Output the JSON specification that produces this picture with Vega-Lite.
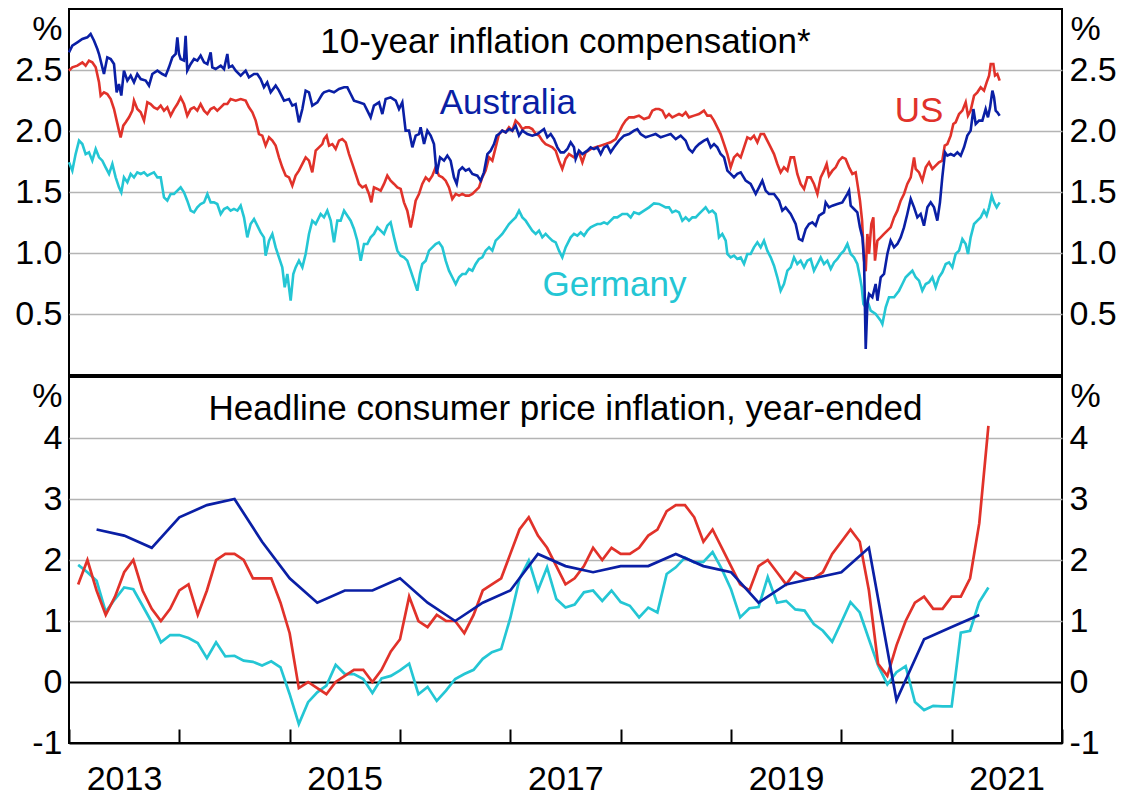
{
"$schema":"https://vega.github.io/schema/vega-lite/v6.json",
"background":"white",
"padding":{"left":13,"top":8,"right":5,"bottom":5},
"spacing":0,
"config":{
"font":"Liberation Sans",
"view":{"stroke":"black","strokeWidth":2},
"concat":{"spacing":0},
"axis":{"labelFont":"Liberation Sans","labelFontSize":34,"labelColor":"black","titleFont":"Liberation Sans","titleFontSize":34,"titleFontWeight":"normal","titleColor":"black","domain":false,"ticks":false,"gridColor":"#b4b4b4","gridWidth":1.5}
},
"datasets":{
"ie_au":[{"t":2013.000,"v":2.645},{"t":2013.030,"v":2.700},{"t":2013.076,"v":2.727},{"t":2013.121,"v":2.754},{"t":2013.166,"v":2.768},{"t":2013.196,"v":2.795},{"t":2013.227,"v":2.740},{"t":2013.257,"v":2.672},{"t":2013.272,"v":2.631},{"t":2013.302,"v":2.522},{"t":2013.317,"v":2.467},{"t":2013.347,"v":2.604},{"t":2013.378,"v":2.590},{"t":2013.408,"v":2.549},{"t":2013.432,"v":2.317},{"t":2013.453,"v":2.385},{"t":2013.474,"v":2.290},{"t":2013.498,"v":2.495},{"t":2013.529,"v":2.413},{"t":2013.559,"v":2.454},{"t":2013.589,"v":2.399},{"t":2013.619,"v":2.467},{"t":2013.650,"v":2.426},{"t":2013.695,"v":2.413},{"t":2013.725,"v":2.372},{"t":2013.755,"v":2.467},{"t":2013.801,"v":2.495},{"t":2013.846,"v":2.467},{"t":2013.876,"v":2.454},{"t":2013.906,"v":2.522},{"t":2013.937,"v":2.604},{"t":2013.967,"v":2.631},{"t":2013.982,"v":2.768},{"t":2013.997,"v":2.631},{"t":2014.012,"v":2.590},{"t":2014.042,"v":2.577},{"t":2014.057,"v":2.781},{"t":2014.072,"v":2.495},{"t":2014.103,"v":2.549},{"t":2014.133,"v":2.590},{"t":2014.163,"v":2.577},{"t":2014.193,"v":2.618},{"t":2014.224,"v":2.563},{"t":2014.254,"v":2.549},{"t":2014.284,"v":2.645},{"t":2014.299,"v":2.522},{"t":2014.329,"v":2.508},{"t":2014.375,"v":2.536},{"t":2014.405,"v":2.508},{"t":2014.435,"v":2.631},{"t":2014.450,"v":2.522},{"t":2014.480,"v":2.536},{"t":2014.511,"v":2.495},{"t":2014.556,"v":2.454},{"t":2014.601,"v":2.495},{"t":2014.631,"v":2.440},{"t":2014.677,"v":2.467},{"t":2014.707,"v":2.467},{"t":2014.737,"v":2.426},{"t":2014.767,"v":2.358},{"t":2014.797,"v":2.399},{"t":2014.828,"v":2.317},{"t":2014.873,"v":2.372},{"t":2014.903,"v":2.331},{"t":2014.949,"v":2.249},{"t":2014.994,"v":2.262},{"t":2015.024,"v":2.208},{"t":2015.054,"v":2.221},{"t":2015.084,"v":2.071},{"t":2015.115,"v":2.180},{"t":2015.145,"v":2.331},{"t":2015.175,"v":2.317},{"t":2015.205,"v":2.208},{"t":2015.251,"v":2.235},{"t":2015.296,"v":2.303},
{"t":2015.311,"v":2.317},{"t":2015.357,"v":2.331},{"t":2015.402,"v":2.317},{"t":2015.447,"v":2.344},{"t":2015.493,"v":2.358},{"t":2015.523,"v":2.358},{"t":2015.553,"v":2.303},{"t":2015.583,"v":2.249},{"t":2015.628,"v":2.235},{"t":2015.674,"v":2.221},{"t":2015.704,"v":2.167},{"t":2015.734,"v":2.112},{"t":2015.764,"v":2.208},{"t":2015.810,"v":2.235},{"t":2015.840,"v":2.139},{"t":2015.870,"v":2.262},{"t":2015.915,"v":2.276},{"t":2015.961,"v":2.249},{"t":2015.991,"v":2.180},{"t":2016.021,"v":2.235},{"t":2016.051,"v":2.003},{"t":2016.082,"v":2.003},{"t":2016.112,"v":1.866},{"t":2016.142,"v":1.962},{"t":2016.172,"v":1.975},{"t":2016.187,"v":2.030},{"t":2016.218,"v":1.893},{"t":2016.248,"v":2.003},{"t":2016.278,"v":1.962},{"t":2016.308,"v":1.893},{"t":2016.332,"v":1.648},{"t":2016.363,"v":1.784},{"t":2016.399,"v":1.757},{"t":2016.429,"v":1.798},{"t":2016.459,"v":1.757},{"t":2016.489,"v":1.620},{"t":2016.514,"v":1.566},{"t":2016.535,"v":1.675},{"t":2016.565,"v":1.702},{"t":2016.595,"v":1.675},{"t":2016.625,"v":1.689},{"t":2016.656,"v":1.648},{"t":2016.701,"v":1.634},{"t":2016.731,"v":1.593},{"t":2016.761,"v":1.661},{"t":2016.792,"v":1.811},{"t":2016.822,"v":1.839},{"t":2016.852,"v":1.893},{"t":2016.876,"v":1.962},{"t":2016.897,"v":1.975},{"t":2016.927,"v":2.003},{"t":2016.958,"v":1.989},{"t":2016.988,"v":2.016},{"t":2017.018,"v":2.003},{"t":2017.048,"v":2.044},{"t":2017.079,"v":1.962},{"t":2017.109,"v":2.003},{"t":2017.154,"v":1.975},{"t":2017.199,"v":1.962},{"t":2017.245,"v":1.975},{"t":2017.305,"v":2.016},{"t":2017.335,"v":1.948},{"t":2017.366,"v":1.975},{"t":2017.396,"v":1.934},{"t":2017.426,"v":1.866},{"t":2017.456,"v":1.825},{"t":2017.486,"v":1.825},{"t":2017.517,"v":1.852},{"t":2017.547,"v":1.907},{"t":2017.577,"v":1.866},
{"t":2017.592,"v":1.771},{"t":2017.622,"v":1.839},{"t":2017.653,"v":1.811},{"t":2017.698,"v":1.839},{"t":2017.728,"v":1.866},{"t":2017.758,"v":1.852},{"t":2017.789,"v":1.866},{"t":2017.819,"v":1.811},{"t":2017.849,"v":1.866},{"t":2017.879,"v":1.880},{"t":2017.909,"v":1.825},{"t":2017.940,"v":1.866},{"t":2017.985,"v":1.921},{"t":2018.030,"v":1.962},{"t":2018.076,"v":1.975},{"t":2018.121,"v":2.003},{"t":2018.151,"v":2.016},{"t":2018.181,"v":1.975},{"t":2018.227,"v":1.948},{"t":2018.272,"v":1.962},{"t":2018.317,"v":1.975},{"t":2018.363,"v":1.948},{"t":2018.408,"v":1.962},{"t":2018.453,"v":1.975},{"t":2018.499,"v":1.934},{"t":2018.544,"v":1.962},{"t":2018.589,"v":1.921},{"t":2018.619,"v":1.852},{"t":2018.650,"v":1.825},{"t":2018.680,"v":1.866},{"t":2018.710,"v":1.893},{"t":2018.755,"v":1.921},{"t":2018.785,"v":1.934},{"t":2018.816,"v":1.866},{"t":2018.846,"v":1.893},{"t":2018.876,"v":1.866},{"t":2018.906,"v":1.811},{"t":2018.937,"v":1.784},{"t":2018.967,"v":1.675},{"t":2018.997,"v":1.648},{"t":2019.027,"v":1.620},{"t":2019.057,"v":1.648},{"t":2019.088,"v":1.661},{"t":2019.133,"v":1.593},{"t":2019.178,"v":1.566},{"t":2019.224,"v":1.484},{"t":2019.254,"v":1.538},{"t":2019.284,"v":1.593},{"t":2019.314,"v":1.511},{"t":2019.344,"v":1.484},{"t":2019.390,"v":1.484},{"t":2019.435,"v":1.429},{"t":2019.465,"v":1.347},{"t":2019.495,"v":1.374},{"t":2019.541,"v":1.320},{"t":2019.586,"v":1.238},{"t":2019.616,"v":1.115},{"t":2019.646,"v":1.101},{"t":2019.677,"v":1.197},{"t":2019.707,"v":1.238},{"t":2019.737,"v":1.251},{"t":2019.767,"v":1.224},{"t":2019.798,"v":1.306},{"t":2019.843,"v":1.333},
{"t":2019.858,"v":1.415},{"t":2019.888,"v":1.374},{"t":2019.919,"v":1.388},{"t":2019.964,"v":1.402},{"t":2020.009,"v":1.415},{"t":2020.055,"v":1.484},{"t":2020.070,"v":1.511},{"t":2020.085,"v":1.388},{"t":2020.115,"v":1.361},{"t":2020.145,"v":1.333},{"t":2020.169,"v":1.210},{"t":2020.191,"v":1.128},{"t":2020.206,"v":0.937},{"t":2020.221,"v":0.213},{"t":2020.236,"v":0.582},{"t":2020.251,"v":0.664},{"t":2020.281,"v":0.637},{"t":2020.311,"v":0.746},{"t":2020.327,"v":0.609},{"t":2020.357,"v":0.801},{"t":2020.387,"v":0.828},{"t":2020.417,"v":0.992},{"t":2020.447,"v":1.101},{"t":2020.478,"v":1.046},{"t":2020.508,"v":1.074},{"t":2020.538,"v":1.128},{"t":2020.568,"v":1.210},{"t":2020.598,"v":1.320},{"t":2020.629,"v":1.443},{"t":2020.659,"v":1.374},{"t":2020.689,"v":1.292},{"t":2020.719,"v":1.320},{"t":2020.749,"v":1.224},{"t":2020.780,"v":1.374},{"t":2020.810,"v":1.415},{"t":2020.840,"v":1.374},{"t":2020.870,"v":1.265},{"t":2020.894,"v":1.415},{"t":2020.915,"v":1.620},{"t":2020.940,"v":1.825},{"t":2020.961,"v":1.798},{"t":2020.991,"v":1.811},{"t":2021.021,"v":1.798},{"t":2021.052,"v":1.825},{"t":2021.082,"v":1.798},{"t":2021.112,"v":1.866},{"t":2021.142,"v":1.962},{"t":2021.172,"v":2.003},{"t":2021.197,"v":2.180},{"t":2021.218,"v":2.057},{"t":2021.248,"v":2.085},{"t":2021.278,"v":2.085},{"t":2021.308,"v":2.180},{"t":2021.329,"v":2.112},{"t":2021.348,"v":2.194},{"t":2021.369,"v":2.331},{"t":2021.384,"v":2.276},{"t":2021.399,"v":2.167},{"t":2021.414,"v":2.153},{"t":2021.435,"v":2.126}],
"ie_us":[{"t":2013.000,"v":2.495},{"t":2013.030,"v":2.522},{"t":2013.076,"v":2.536},{"t":2013.121,"v":2.563},{"t":2013.151,"v":2.536},{"t":2013.181,"v":2.577},{"t":2013.211,"v":2.563},{"t":2013.242,"v":2.522},{"t":2013.272,"v":2.399},{"t":2013.287,"v":2.290},{"t":2013.317,"v":2.317},{"t":2013.347,"v":2.303},{"t":2013.378,"v":2.262},{"t":2013.408,"v":2.180},{"t":2013.432,"v":2.085},{"t":2013.453,"v":2.003},{"t":2013.468,"v":1.948},{"t":2013.492,"v":2.044},{"t":2013.514,"v":2.071},{"t":2013.544,"v":2.112},{"t":2013.574,"v":2.167},{"t":2013.589,"v":2.249},{"t":2013.619,"v":2.180},{"t":2013.650,"v":2.153},{"t":2013.680,"v":2.085},{"t":2013.710,"v":2.235},{"t":2013.740,"v":2.221},{"t":2013.770,"v":2.194},{"t":2013.801,"v":2.180},{"t":2013.831,"v":2.208},{"t":2013.861,"v":2.167},{"t":2013.891,"v":2.194},{"t":2013.921,"v":2.126},{"t":2013.952,"v":2.180},{"t":2013.982,"v":2.221},{"t":2014.012,"v":2.276},{"t":2014.042,"v":2.221},{"t":2014.072,"v":2.126},{"t":2014.103,"v":2.180},{"t":2014.133,"v":2.194},{"t":2014.163,"v":2.167},{"t":2014.193,"v":2.221},{"t":2014.224,"v":2.167},{"t":2014.254,"v":2.139},{"t":2014.284,"v":2.180},{"t":2014.314,"v":2.194},{"t":2014.344,"v":2.167},{"t":2014.375,"v":2.194},{"t":2014.405,"v":2.221},{"t":2014.435,"v":2.221},{"t":2014.465,"v":2.262},{"t":2014.511,"v":2.249},{"t":2014.556,"v":2.262},{"t":2014.601,"v":2.249},{"t":2014.631,"v":2.194},{"t":2014.662,"v":2.153},{"t":2014.692,"v":2.085},{"t":2014.722,"v":1.975},{"t":2014.752,"v":1.962},{"t":2014.782,"v":1.880},{"t":2014.813,"v":1.948},{"t":2014.843,"v":1.921},{"t":2014.873,"v":1.880},{"t":2014.903,"v":1.784},{"t":2014.933,"v":1.702},{"t":2014.964,"v":1.634},{"t":2014.994,"v":1.620},{"t":2015.024,"v":1.552},{"t":2015.054,"v":1.634},{"t":2015.084,"v":1.675},{"t":2015.115,"v":1.730},{"t":2015.145,"v":1.784},{"t":2015.175,"v":1.757},{"t":2015.205,"v":1.661},{"t":2015.236,"v":1.839},{"t":2015.266,"v":1.866},{"t":2015.296,"v":1.893},
{"t":2015.311,"v":1.934},{"t":2015.335,"v":1.962},{"t":2015.357,"v":1.880},{"t":2015.387,"v":1.893},{"t":2015.417,"v":1.852},{"t":2015.447,"v":1.921},{"t":2015.477,"v":1.934},{"t":2015.508,"v":1.907},{"t":2015.538,"v":1.811},{"t":2015.568,"v":1.730},{"t":2015.598,"v":1.648},{"t":2015.628,"v":1.566},{"t":2015.659,"v":1.538},{"t":2015.689,"v":1.552},{"t":2015.719,"v":1.484},{"t":2015.740,"v":1.415},{"t":2015.764,"v":1.538},{"t":2015.795,"v":1.525},{"t":2015.825,"v":1.511},{"t":2015.855,"v":1.566},{"t":2015.885,"v":1.634},{"t":2015.915,"v":1.593},{"t":2015.946,"v":1.566},{"t":2015.976,"v":1.538},{"t":2016.006,"v":1.525},{"t":2016.036,"v":1.415},{"t":2016.066,"v":1.347},{"t":2016.097,"v":1.210},{"t":2016.121,"v":1.320},{"t":2016.142,"v":1.429},{"t":2016.172,"v":1.484},{"t":2016.202,"v":1.566},{"t":2016.233,"v":1.620},{"t":2016.263,"v":1.593},{"t":2016.293,"v":1.634},{"t":2016.323,"v":1.702},{"t":2016.353,"v":1.634},{"t":2016.384,"v":1.620},{"t":2016.414,"v":1.593},{"t":2016.444,"v":1.538},{"t":2016.474,"v":1.443},{"t":2016.505,"v":1.484},{"t":2016.535,"v":1.470},{"t":2016.565,"v":1.484},{"t":2016.595,"v":1.470},{"t":2016.625,"v":1.470},{"t":2016.656,"v":1.484},{"t":2016.686,"v":1.511},{"t":2016.716,"v":1.538},{"t":2016.746,"v":1.620},{"t":2016.776,"v":1.675},{"t":2016.807,"v":1.784},{"t":2016.837,"v":1.757},{"t":2016.867,"v":1.866},{"t":2016.897,"v":1.975},{"t":2016.927,"v":2.003},{"t":2016.958,"v":1.989},{"t":2016.988,"v":2.030},{"t":2017.018,"v":2.003},{"t":2017.048,"v":2.085},{"t":2017.079,"v":2.057},{"t":2017.109,"v":2.016},{"t":2017.139,"v":2.030},{"t":2017.169,"v":2.030},{"t":2017.199,"v":2.016},{"t":2017.230,"v":1.975},{"t":2017.260,"v":1.962},{"t":2017.290,"v":1.921},{"t":2017.320,"v":1.893},{"t":2017.350,"v":1.880},{"t":2017.381,"v":1.866},{"t":2017.411,"v":1.839},{"t":2017.441,"v":1.757},{"t":2017.471,"v":1.689},{"t":2017.501,"v":1.771},
{"t":2017.532,"v":1.811},{"t":2017.577,"v":1.784},{"t":2017.622,"v":1.825},{"t":2017.653,"v":1.743},{"t":2017.683,"v":1.825},{"t":2017.728,"v":1.852},{"t":2017.773,"v":1.866},{"t":2017.819,"v":1.880},{"t":2017.864,"v":1.893},{"t":2017.909,"v":1.907},{"t":2017.955,"v":1.934},{"t":2017.985,"v":1.989},{"t":2018.015,"v":2.044},{"t":2018.045,"v":2.085},{"t":2018.076,"v":2.112},{"t":2018.121,"v":2.112},{"t":2018.166,"v":2.126},{"t":2018.212,"v":2.098},{"t":2018.257,"v":2.112},{"t":2018.287,"v":2.167},{"t":2018.317,"v":2.180},{"t":2018.347,"v":2.180},{"t":2018.378,"v":2.167},{"t":2018.408,"v":2.112},{"t":2018.438,"v":2.139},{"t":2018.468,"v":2.112},{"t":2018.499,"v":2.126},{"t":2018.529,"v":2.139},{"t":2018.559,"v":2.126},{"t":2018.589,"v":2.153},{"t":2018.619,"v":2.112},{"t":2018.665,"v":2.126},{"t":2018.710,"v":2.139},{"t":2018.755,"v":2.167},{"t":2018.785,"v":2.126},{"t":2018.816,"v":2.126},{"t":2018.846,"v":2.085},{"t":2018.876,"v":2.030},{"t":2018.906,"v":1.975},{"t":2018.937,"v":1.893},{"t":2018.967,"v":1.811},{"t":2018.997,"v":1.702},{"t":2019.027,"v":1.784},{"t":2019.057,"v":1.811},{"t":2019.088,"v":1.784},{"t":2019.118,"v":1.866},{"t":2019.148,"v":1.948},{"t":2019.178,"v":1.934},{"t":2019.208,"v":1.962},{"t":2019.239,"v":1.907},{"t":2019.269,"v":1.975},{"t":2019.299,"v":1.975},{"t":2019.329,"v":1.921},{"t":2019.360,"v":1.866},{"t":2019.390,"v":1.811},{"t":2019.420,"v":1.730},{"t":2019.450,"v":1.661},{"t":2019.480,"v":1.702},{"t":2019.511,"v":1.675},{"t":2019.541,"v":1.784},{"t":2019.571,"v":1.784},{"t":2019.601,"v":1.648},{"t":2019.631,"v":1.566},{"t":2019.662,"v":1.525},{"t":2019.692,"v":1.620},{"t":2019.722,"v":1.620},{"t":2019.752,"v":1.566},{"t":2019.783,"v":1.484},{"t":2019.813,"v":1.620},{"t":2019.843,"v":1.675},
{"t":2019.867,"v":1.730},{"t":2019.888,"v":1.634},{"t":2019.919,"v":1.675},{"t":2019.949,"v":1.702},{"t":2019.979,"v":1.757},{"t":2020.009,"v":1.784},{"t":2020.039,"v":1.771},{"t":2020.070,"v":1.702},{"t":2020.100,"v":1.648},{"t":2020.130,"v":1.661},{"t":2020.151,"v":1.538},{"t":2020.169,"v":1.429},{"t":2020.188,"v":1.265},{"t":2020.206,"v":0.937},{"t":2020.221,"v":0.850},{"t":2020.236,"v":1.156},{"t":2020.251,"v":0.992},{"t":2020.272,"v":1.238},{"t":2020.290,"v":1.292},{"t":2020.305,"v":0.937},{"t":2020.327,"v":1.101},{"t":2020.357,"v":1.128},{"t":2020.387,"v":1.156},{"t":2020.417,"v":1.183},{"t":2020.447,"v":1.210},{"t":2020.478,"v":1.292},{"t":2020.508,"v":1.347},{"t":2020.538,"v":1.429},{"t":2020.568,"v":1.484},{"t":2020.598,"v":1.566},{"t":2020.629,"v":1.620},{"t":2020.659,"v":1.784},{"t":2020.674,"v":1.689},{"t":2020.704,"v":1.661},{"t":2020.734,"v":1.593},{"t":2020.765,"v":1.702},{"t":2020.795,"v":1.743},{"t":2020.825,"v":1.689},{"t":2020.855,"v":1.716},{"t":2020.885,"v":1.743},{"t":2020.915,"v":1.757},{"t":2020.937,"v":1.880},{"t":2020.961,"v":1.893},{"t":2020.991,"v":1.962},{"t":2021.015,"v":2.057},{"t":2021.036,"v":2.071},{"t":2021.067,"v":2.139},{"t":2021.097,"v":2.167},{"t":2021.127,"v":2.235},{"t":2021.148,"v":2.126},{"t":2021.172,"v":2.167},{"t":2021.203,"v":2.290},{"t":2021.233,"v":2.317},{"t":2021.263,"v":2.358},{"t":2021.293,"v":2.331},{"t":2021.317,"v":2.399},{"t":2021.339,"v":2.454},{"t":2021.354,"v":2.549},{"t":2021.378,"v":2.549},{"t":2021.393,"v":2.454},{"t":2021.414,"v":2.467},{"t":2021.435,"v":2.413}],
"ie_de":[{"t":2013.000,"v":1.743},{"t":2013.030,"v":1.675},{"t":2013.060,"v":1.811},{"t":2013.091,"v":1.921},{"t":2013.121,"v":1.893},{"t":2013.151,"v":1.811},{"t":2013.181,"v":1.825},{"t":2013.211,"v":1.757},{"t":2013.242,"v":1.852},{"t":2013.272,"v":1.784},{"t":2013.302,"v":1.757},{"t":2013.332,"v":1.702},{"t":2013.363,"v":1.648},{"t":2013.393,"v":1.730},{"t":2013.423,"v":1.620},{"t":2013.453,"v":1.538},{"t":2013.474,"v":1.497},{"t":2013.498,"v":1.620},{"t":2013.529,"v":1.579},{"t":2013.559,"v":1.648},{"t":2013.589,"v":1.620},{"t":2013.619,"v":1.661},{"t":2013.650,"v":1.648},{"t":2013.680,"v":1.661},{"t":2013.710,"v":1.634},{"t":2013.740,"v":1.648},{"t":2013.770,"v":1.661},{"t":2013.801,"v":1.620},{"t":2013.831,"v":1.620},{"t":2013.861,"v":1.456},{"t":2013.891,"v":1.429},{"t":2013.921,"v":1.484},{"t":2013.952,"v":1.484},{"t":2013.982,"v":1.511},{"t":2014.012,"v":1.538},{"t":2014.042,"v":1.497},{"t":2014.072,"v":1.429},{"t":2014.103,"v":1.347},{"t":2014.133,"v":1.333},{"t":2014.163,"v":1.374},{"t":2014.193,"v":1.402},{"t":2014.224,"v":1.415},{"t":2014.254,"v":1.484},{"t":2014.284,"v":1.415},{"t":2014.314,"v":1.415},{"t":2014.344,"v":1.402},{"t":2014.375,"v":1.320},{"t":2014.405,"v":1.361},{"t":2014.435,"v":1.374},{"t":2014.465,"v":1.347},{"t":2014.495,"v":1.361},{"t":2014.526,"v":1.347},{"t":2014.556,"v":1.388},{"t":2014.586,"v":1.292},{"t":2014.616,"v":1.128},{"t":2014.646,"v":1.238},{"t":2014.677,"v":1.279},{"t":2014.707,"v":1.224},{"t":2014.737,"v":1.169},{"t":2014.767,"v":1.128},{"t":2014.782,"v":0.978},{"t":2014.813,"v":1.101},{"t":2014.843,"v":1.156},{"t":2014.873,"v":1.046},{"t":2014.903,"v":0.964},{"t":2014.933,"v":0.882},{"t":2014.955,"v":0.719},{"t":2014.979,"v":0.828},{"t":2015.009,"v":0.609},{"t":2015.033,"v":0.828},{"t":2015.054,"v":0.882},{"t":2015.084,"v":0.937},{"t":2015.115,"v":0.882},{"t":2015.145,"v":0.992},{"t":2015.175,"v":1.156},{"t":2015.205,"v":1.265},{"t":2015.236,"v":1.238},
{"t":2015.281,"v":1.320},{"t":2015.311,"v":1.292},{"t":2015.341,"v":1.347},{"t":2015.372,"v":1.265},{"t":2015.402,"v":1.087},{"t":2015.432,"v":1.265},{"t":2015.462,"v":1.265},{"t":2015.493,"v":1.347},{"t":2015.523,"v":1.306},{"t":2015.553,"v":1.265},{"t":2015.583,"v":1.197},{"t":2015.613,"v":1.101},{"t":2015.644,"v":0.937},{"t":2015.674,"v":1.074},{"t":2015.704,"v":1.074},{"t":2015.734,"v":1.128},{"t":2015.764,"v":1.156},{"t":2015.795,"v":1.210},{"t":2015.825,"v":1.183},{"t":2015.855,"v":1.156},{"t":2015.885,"v":1.224},{"t":2015.915,"v":1.251},{"t":2015.946,"v":1.128},{"t":2015.976,"v":1.019},{"t":2016.006,"v":0.978},{"t":2016.036,"v":0.964},{"t":2016.066,"v":0.937},{"t":2016.097,"v":0.855},{"t":2016.127,"v":0.773},{"t":2016.157,"v":0.691},{"t":2016.181,"v":0.828},{"t":2016.202,"v":0.910},{"t":2016.233,"v":0.937},{"t":2016.263,"v":1.019},{"t":2016.293,"v":1.046},{"t":2016.323,"v":1.074},{"t":2016.353,"v":1.087},{"t":2016.384,"v":1.046},{"t":2016.414,"v":0.937},{"t":2016.444,"v":0.855},{"t":2016.474,"v":0.801},{"t":2016.505,"v":0.746},{"t":2016.535,"v":0.801},{"t":2016.565,"v":0.828},{"t":2016.595,"v":0.828},{"t":2016.625,"v":0.869},{"t":2016.656,"v":0.855},{"t":2016.686,"v":0.910},{"t":2016.716,"v":0.951},{"t":2016.746,"v":0.964},{"t":2016.776,"v":1.019},{"t":2016.807,"v":1.046},{"t":2016.837,"v":1.019},{"t":2016.867,"v":1.101},{"t":2016.897,"v":1.128},{"t":2016.927,"v":1.156},{"t":2016.958,"v":1.197},{"t":2016.988,"v":1.238},{"t":2017.018,"v":1.265},{"t":2017.048,"v":1.292},{"t":2017.079,"v":1.347},{"t":2017.109,"v":1.292},{"t":2017.139,"v":1.265},{"t":2017.169,"v":1.224},{"t":2017.199,"v":1.183},{"t":2017.230,"v":1.156},{"t":2017.260,"v":1.183},{"t":2017.290,"v":1.128},{"t":2017.320,"v":1.156},{"t":2017.350,"v":1.128},{"t":2017.381,"v":1.101},{"t":2017.411,"v":1.087},{"t":2017.441,"v":1.019},{"t":2017.471,"v":0.964},{"t":2017.501,"v":1.046},
{"t":2017.547,"v":1.128},{"t":2017.577,"v":1.156},{"t":2017.607,"v":1.142},{"t":2017.638,"v":1.169},{"t":2017.668,"v":1.142},{"t":2017.698,"v":1.183},{"t":2017.728,"v":1.210},{"t":2017.758,"v":1.224},{"t":2017.789,"v":1.238},{"t":2017.819,"v":1.238},{"t":2017.849,"v":1.251},{"t":2017.879,"v":1.238},{"t":2017.909,"v":1.265},{"t":2017.940,"v":1.292},{"t":2017.970,"v":1.292},{"t":2018.015,"v":1.320},{"t":2018.060,"v":1.320},{"t":2018.091,"v":1.292},{"t":2018.121,"v":1.333},{"t":2018.166,"v":1.320},{"t":2018.212,"v":1.347},{"t":2018.257,"v":1.374},{"t":2018.302,"v":1.407},{"t":2018.347,"v":1.402},{"t":2018.378,"v":1.388},{"t":2018.408,"v":1.374},{"t":2018.438,"v":1.374},{"t":2018.468,"v":1.333},{"t":2018.499,"v":1.347},{"t":2018.529,"v":1.333},{"t":2018.559,"v":1.265},{"t":2018.589,"v":1.292},{"t":2018.619,"v":1.265},{"t":2018.650,"v":1.292},{"t":2018.680,"v":1.292},{"t":2018.710,"v":1.320},{"t":2018.740,"v":1.347},{"t":2018.770,"v":1.374},{"t":2018.801,"v":1.333},{"t":2018.831,"v":1.347},{"t":2018.861,"v":1.320},{"t":2018.876,"v":1.238},{"t":2018.891,"v":1.128},{"t":2018.921,"v":1.156},{"t":2018.952,"v":1.101},{"t":2018.967,"v":0.992},{"t":2018.997,"v":0.964},{"t":2019.027,"v":0.978},{"t":2019.057,"v":0.951},{"t":2019.088,"v":0.964},{"t":2019.118,"v":0.910},{"t":2019.148,"v":0.992},{"t":2019.178,"v":0.992},{"t":2019.208,"v":1.046},{"t":2019.239,"v":1.087},{"t":2019.269,"v":1.046},{"t":2019.299,"v":1.101},{"t":2019.329,"v":1.019},{"t":2019.360,"v":0.964},{"t":2019.390,"v":0.896},{"t":2019.420,"v":0.801},{"t":2019.450,"v":0.691},{"t":2019.480,"v":0.746},{"t":2019.511,"v":0.855},{"t":2019.541,"v":0.882},{"t":2019.571,"v":0.964},{"t":2019.601,"v":0.910},{"t":2019.631,"v":0.937},{"t":2019.662,"v":0.882},{"t":2019.692,"v":0.937},{"t":2019.722,"v":0.951},{"t":2019.752,"v":0.855},{"t":2019.783,"v":0.910},{"t":2019.813,"v":0.964},{"t":2019.843,"v":0.910},
{"t":2019.873,"v":0.937},{"t":2019.904,"v":0.869},{"t":2019.934,"v":0.923},{"t":2019.964,"v":0.951},{"t":2019.994,"v":0.992},{"t":2020.024,"v":1.019},{"t":2020.055,"v":1.074},{"t":2020.085,"v":0.992},{"t":2020.115,"v":0.964},{"t":2020.145,"v":0.910},{"t":2020.169,"v":0.801},{"t":2020.185,"v":0.719},{"t":2020.200,"v":0.582},{"t":2020.221,"v":0.555},{"t":2020.236,"v":0.609},{"t":2020.266,"v":0.527},{"t":2020.311,"v":0.500},{"t":2020.357,"v":0.445},{"t":2020.372,"v":0.418},{"t":2020.402,"v":0.555},{"t":2020.432,"v":0.637},{"t":2020.478,"v":0.637},{"t":2020.523,"v":0.691},{"t":2020.553,"v":0.746},{"t":2020.583,"v":0.801},{"t":2020.613,"v":0.828},{"t":2020.644,"v":0.855},{"t":2020.674,"v":0.801},{"t":2020.704,"v":0.773},{"t":2020.734,"v":0.691},{"t":2020.765,"v":0.746},{"t":2020.795,"v":0.760},{"t":2020.825,"v":0.801},{"t":2020.855,"v":0.719},{"t":2020.885,"v":0.801},{"t":2020.915,"v":0.842},{"t":2020.946,"v":0.910},{"t":2020.976,"v":0.923},{"t":2021.006,"v":0.882},{"t":2021.036,"v":0.992},{"t":2021.067,"v":1.019},{"t":2021.097,"v":1.115},{"t":2021.127,"v":1.074},{"t":2021.148,"v":0.992},{"t":2021.172,"v":1.128},{"t":2021.203,"v":1.238},{"t":2021.233,"v":1.265},{"t":2021.263,"v":1.292},{"t":2021.293,"v":1.347},{"t":2021.317,"v":1.306},{"t":2021.339,"v":1.374},{"t":2021.363,"v":1.470},{"t":2021.384,"v":1.415},{"t":2021.408,"v":1.374},{"t":2021.435,"v":1.415}],
"cpi_us":[{"t":2013.083,"v":1.6},{"t":2013.167,"v":2.0},{"t":2013.25,"v":1.5},{"t":2013.333,"v":1.1},{"t":2013.417,"v":1.4},{"t":2013.5,"v":1.8},{"t":2013.583,"v":2.0},{"t":2013.667,"v":1.5},{"t":2013.75,"v":1.2},{"t":2013.833,"v":1.0},{"t":2013.917,"v":1.2},{"t":2014.0,"v":1.5},{"t":2014.083,"v":1.6},{"t":2014.167,"v":1.1},{"t":2014.25,"v":1.5},{"t":2014.333,"v":2.0},{"t":2014.417,"v":2.1},{"t":2014.5,"v":2.1},{"t":2014.583,"v":2.0},{"t":2014.667,"v":1.7},{"t":2014.75,"v":1.7},{"t":2014.833,"v":1.7},{"t":2014.917,"v":1.3},{"t":2015.0,"v":0.8},{"t":2015.083,"v":-0.1},{"t":2015.167,"v":0.0},{"t":2015.25,"v":-0.1},{"t":2015.333,"v":-0.2},{"t":2015.417,"v":0.0},{"t":2015.5,"v":0.1},{"t":2015.583,"v":0.2},{"t":2015.667,"v":0.2},{"t":2015.75,"v":0.0},{"t":2015.833,"v":0.2},{"t":2015.917,"v":0.5},{"t":2016.0,"v":0.7},{"t":2016.083,"v":1.4},{"t":2016.167,"v":1.0},{"t":2016.25,"v":0.9},{"t":2016.333,"v":1.1},{"t":2016.417,"v":1.0},{"t":2016.5,"v":1.0},{"t":2016.583,"v":0.8},{"t":2016.667,"v":1.1},{"t":2016.75,"v":1.5},{"t":2016.833,"v":1.6},{"t":2016.917,"v":1.7},{"t":2017.0,"v":2.1},{"t":2017.083,"v":2.5},{"t":2017.167,"v":2.7},{"t":2017.25,"v":2.4},{"t":2017.333,"v":2.2},{"t":2017.417,"v":1.9},{"t":2017.5,"v":1.6},{"t":2017.583,"v":1.7},{"t":2017.667,"v":1.9},{"t":2017.75,"v":2.2},{"t":2017.833,"v":2.0},{"t":2017.917,"v":2.2},{"t":2018.0,"v":2.1},{"t":2018.083,"v":2.1},{"t":2018.167,"v":2.2},{"t":2018.25,"v":2.4},{"t":2018.333,"v":2.5},{"t":2018.417,"v":2.8},{"t":2018.5,"v":2.9},{"t":2018.583,"v":2.9},{"t":2018.667,"v":2.7},{"t":2018.75,"v":2.3},{"t":2018.833,"v":2.5},{"t":2018.917,"v":2.2},{"t":2019.0,"v":1.9},{"t":2019.083,"v":1.6},{"t":2019.167,"v":1.5},{"t":2019.25,"v":1.9},{"t":2019.333,"v":2.0},{"t":2019.417,"v":1.8},{"t":2019.5,"v":1.6},{"t":2019.583,"v":1.8},{"t":2019.667,"v":1.7},{"t":2019.75,"v":1.7},{"t":2019.833,"v":1.8},{"t":2019.917,"v":2.1},{"t":2020.0,"v":2.3},{"t":2020.083,"v":2.5},{"t":2020.167,"v":2.3},{"t":2020.25,"v":1.5},{"t":2020.333,"v":0.3},{"t":2020.417,"v":0.1},{"t":2020.5,"v":0.6},{"t":2020.583,"v":1.0},{"t":2020.667,"v":1.3},{"t":2020.75,"v":1.4},{"t":2020.833,"v":1.2},{"t":2020.917,"v":1.2},{"t":2021.0,"v":1.4},{"t":2021.083,"v":1.4},{"t":2021.167,"v":1.7},{"t":2021.25,"v":2.6},{"t":2021.333,"v":4.2}],
"cpi_de":[{"t":2013.083,"v":1.92},{"t":2013.167,"v":1.80},{"t":2013.25,"v":1.66},{"t":2013.333,"v":1.15},{"t":2013.417,"v":1.36},{"t":2013.5,"v":1.55},{"t":2013.583,"v":1.52},{"t":2013.667,"v":1.25},{"t":2013.75,"v":0.98},{"t":2013.833,"v":0.65},{"t":2013.917,"v":0.77},{"t":2014.0,"v":0.77},{"t":2014.083,"v":0.72},{"t":2014.167,"v":0.64},{"t":2014.25,"v":0.39},{"t":2014.333,"v":0.65},{"t":2014.417,"v":0.42},{"t":2014.5,"v":0.43},{"t":2014.583,"v":0.35},{"t":2014.667,"v":0.33},{"t":2014.75,"v":0.27},{"t":2014.833,"v":0.34},{"t":2014.917,"v":0.24},{"t":2015.0,"v":-0.2},{"t":2015.083,"v":-0.69},{"t":2015.167,"v":-0.33},{"t":2015.25,"v":-0.17},{"t":2015.333,"v":-0.06},{"t":2015.417,"v":0.28},{"t":2015.5,"v":0.13},{"t":2015.583,"v":0.13},{"t":2015.667,"v":0.05},{"t":2015.75,"v":-0.18},{"t":2015.833,"v":0.06},{"t":2015.917,"v":0.10},{"t":2016.0,"v":0.19},{"t":2016.083,"v":0.30},{"t":2016.167,"v":-0.20},{"t":2016.25,"v":-0.08},{"t":2016.333,"v":-0.31},{"t":2016.417,"v":-0.14},{"t":2016.5,"v":0.05},{"t":2016.583,"v":0.13},{"t":2016.667,"v":0.20},{"t":2016.75,"v":0.38},{"t":2016.833,"v":0.49},{"t":2016.917,"v":0.54},{"t":2017.0,"v":1.05},{"t":2017.083,"v":1.69},{"t":2017.167,"v":1.99},{"t":2017.25,"v":1.50},{"t":2017.333,"v":1.88},{"t":2017.417,"v":1.36},{"t":2017.5,"v":1.22},{"t":2017.583,"v":1.27},{"t":2017.667,"v":1.47},{"t":2017.75,"v":1.50},{"t":2017.833,"v":1.33},{"t":2017.917,"v":1.50},{"t":2018.0,"v":1.31},{"t":2018.083,"v":1.25},{"t":2018.167,"v":1.06},{"t":2018.25,"v":1.22},{"t":2018.333,"v":1.14},{"t":2018.417,"v":1.77},{"t":2018.5,"v":1.88},{"t":2018.583,"v":2.04},{"t":2018.667,"v":1.96},{"t":2018.75,"v":1.97},{"t":2018.833,"v":2.13},{"t":2018.917,"v":1.85},{"t":2019.0,"v":1.52},{"t":2019.083,"v":1.06},{"t":2019.167,"v":1.21},{"t":2019.25,"v":1.23},{"t":2019.333,"v":1.72},{"t":2019.417,"v":1.30},{"t":2019.5,"v":1.33},{"t":2019.583,"v":1.19},{"t":2019.667,"v":1.17},{"t":2019.75,"v":0.95},{"t":2019.833,"v":0.84},{"t":2019.917,"v":0.66},{"t":2020.0,"v":0.98},{"t":2020.083,"v":1.31},{"t":2020.167,"v":1.14},{"t":2020.25,"v":0.70},{"t":2020.333,"v":0.27},{"t":2020.417,"v":-0.04},{"t":2020.5,"v":0.16},{"t":2020.583,"v":0.26},{"t":2020.667,"v":-0.33},{"t":2020.75,"v":-0.46},{"t":2020.833,"v":-0.39},{"t":2020.917,"v":-0.40},{"t":2021.0,"v":-0.40},{"t":2021.083,"v":0.81},{"t":2021.167,"v":0.84},{"t":2021.25,"v":1.31},{"t":2021.333,"v":1.55}],
"cpi_au":[{"t":2013.25,"v":2.5},{"t":2013.5,"v":2.4},{"t":2013.75,"v":2.2},{"t":2014.0,"v":2.7},{"t":2014.25,"v":2.9},{"t":2014.5,"v":3.0},{"t":2014.75,"v":2.3},{"t":2015.0,"v":1.7},{"t":2015.25,"v":1.3},{"t":2015.5,"v":1.5},{"t":2015.75,"v":1.5},{"t":2016.0,"v":1.7},{"t":2016.25,"v":1.3},{"t":2016.5,"v":1.0},{"t":2016.75,"v":1.3},{"t":2017.0,"v":1.5},{"t":2017.25,"v":2.1},{"t":2017.5,"v":1.9},{"t":2017.75,"v":1.8},{"t":2018.0,"v":1.9},{"t":2018.25,"v":1.9},{"t":2018.5,"v":2.1},{"t":2018.75,"v":1.9},{"t":2019.0,"v":1.8},{"t":2019.25,"v":1.3},{"t":2019.5,"v":1.6},{"t":2019.75,"v":1.7},{"t":2020.0,"v":1.8},{"t":2020.25,"v":2.2},{"t":2020.5,"v":-0.3},{"t":2020.75,"v":0.7},{"t":2021.0,"v":0.9},{"t":2021.25,"v":1.1}]
},
"vconcat":[
{
"width":993,"height":366,
"encoding":{"x":{"field":"t","type":"quantitative","scale":{"domain":[2013,2022],"nice":false,"zero":false},"axis":null}},
"layer":[
{"data":{"name":"ie_de"},"mark":{"type":"line","color":"#24c6d4","strokeWidth":2.6},
"encoding":{"y":{"field":"v","type":"quantitative","scale":{"domain":[0,3],"nice":false,"zero":false},
"axis":{"orient":"left","values":[0.5,1,1.5,2,2.5],"format":".1f","grid":true,"labelPadding":7,"title":"%","titleAngle":0,"titleAlign":"right","titleBaseline":"alphabetic","titleX":-7,"titleY":30}}}},
{"data":{"name":"ie_us"},"mark":{"type":"line","color":"#e1322a","strokeWidth":2.6},
"encoding":{"y":{"field":"v","type":"quantitative",
"axis":{"orient":"right","values":[0.5,1,1.5,2,2.5],"format":".1f","grid":false,"labelPadding":7,"title":"%","titleAngle":0,"titleAlign":"left","titleBaseline":"alphabetic","titleX":8,"titleY":30}}}},
{"data":{"name":"ie_au"},"mark":{"type":"line","color":"#0a1fa5","strokeWidth":2.6},
"encoding":{"y":{"field":"v","type":"quantitative","axis":null}}},
{"data":{"values":[{"t":2016.977,"v":2.137,"label":"Australia"},{"t":2020.704,"v":2.076,"label":"US"},{"t":2017.944,"v":0.648,"label":"Germany"},{"t":2017.5,"v":2.639,"label":"10-year inflation compensation*"}]},
"mark":{"type":"text","fontSize":35,"align":"center","baseline":"alphabetic","font":"Liberation Sans"},
"encoding":{"y":{"field":"v","type":"quantitative","axis":null},"text":{"field":"label"},
"color":{"field":"label","type":"nominal","scale":{"domain":["Australia","US","Germany","10-year inflation compensation*"],"range":["#0a1fa5","#e1322a","#24c6d4","#000000"]},"legend":null}}}
],
"resolve":{"axis":{"y":"independent"}}
},
{
"width":993,"height":366,
"encoding":{"x":{"field":"t","type":"quantitative","scale":{"domain":[2013,2022],"nice":false,"zero":false},
"axis":{"values":[2013,2014,2015,2016,2017,2018,2019,2020,2021,2022],"format":"d","grid":false,"ticks":true,"tickSize":-14,"tickWidth":2,"tickColor":"black","labelExpr":"datum.value % 2 == 1 ? datum.label : ''","labelOffset":55,"labelFlush":false,"labelOverlap":false,"labelBound":false,"labelPadding":33,"title":null}}},
"layer":[
{"data":{"name":"cpi_de"},"mark":{"type":"line","color":"#24c6d4","strokeWidth":2.7},
"encoding":{"y":{"field":"v","type":"quantitative","scale":{"domain":[-1,5],"nice":false,"zero":false},
"axis":{"orient":"left","values":[-1,0,1,2,3,4],"labelExpr":"datum.value < 0 ? '-' + format(-datum.value,'d') : format(datum.value,'d')","grid":true,
"gridColor":{"condition":{"test":"datum.value <= 0","value":"black"},"value":"#b4b4b4"},
"gridWidth":{"condition":{"test":"datum.value <= 0","value":2},"value":1.5},
"labelPadding":7,"title":"%","titleAngle":0,"titleAlign":"right","titleBaseline":"alphabetic","titleX":-7,"titleY":29}}}},
{"data":{"name":"cpi_us"},"mark":{"type":"line","color":"#e1322a","strokeWidth":2.7},
"encoding":{"y":{"field":"v","type":"quantitative",
"axis":{"orient":"right","values":[-1,0,1,2,3,4],"labelExpr":"datum.value < 0 ? '-' + format(-datum.value,'d') : format(datum.value,'d')","grid":false,"labelPadding":7,"title":"%","titleAngle":0,"titleAlign":"left","titleBaseline":"alphabetic","titleX":8,"titleY":29}}}},
{"data":{"name":"cpi_au"},"mark":{"type":"line","color":"#0a1fa5","strokeWidth":2.7},
"encoding":{"y":{"field":"v","type":"quantitative","axis":null}}},
{"data":{"values":[{"t":2017.5,"v":4.30,"label":"Headline consumer price inflation, year-ended"}]},
"mark":{"type":"text","fontSize":35,"align":"center","baseline":"alphabetic","font":"Liberation Sans","color":"black"},
"encoding":{"y":{"field":"v","type":"quantitative","axis":null},"text":{"field":"label"}}}
],
"resolve":{"axis":{"y":"independent"}}
}
]
}
